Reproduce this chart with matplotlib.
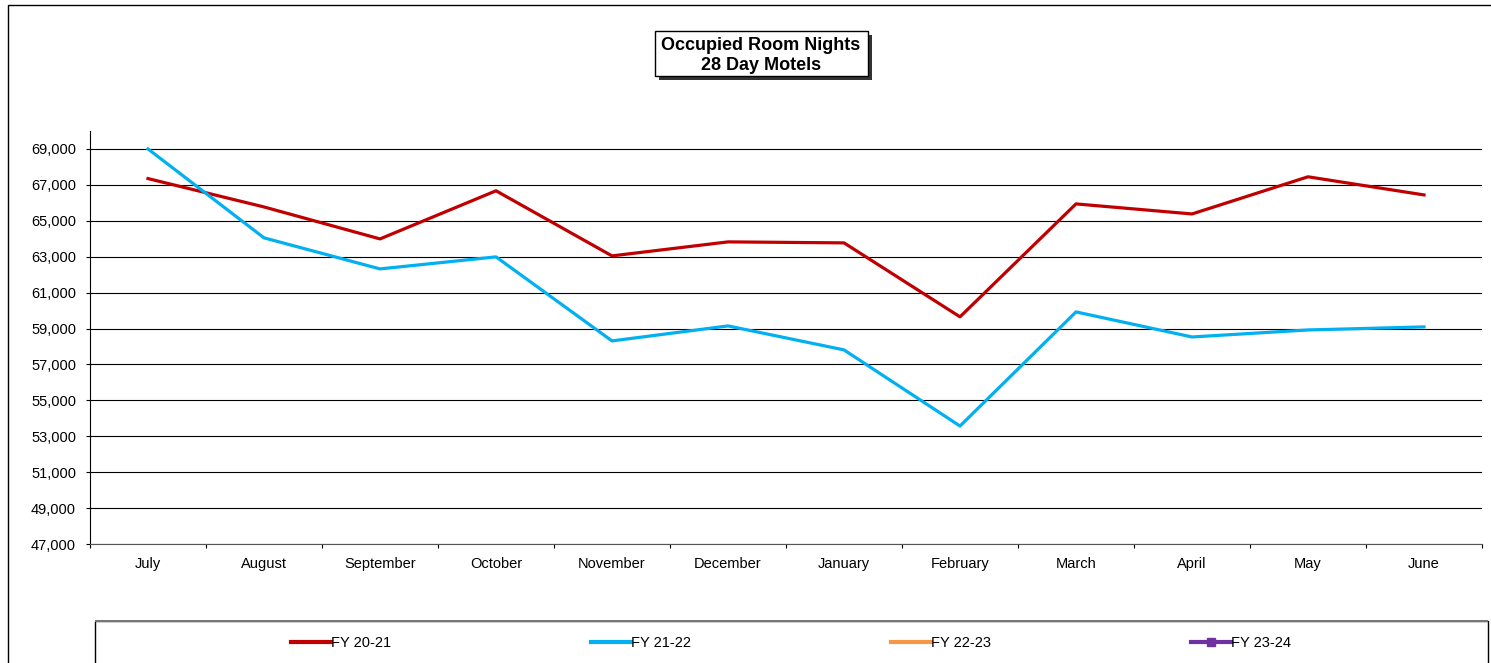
import matplotlib.pyplot as plt
from matplotlib.patches import Rectangle
from matplotlib.ticker import FuncFormatter, FixedLocator

plt.rcParams['font.family'] = ['Liberation Sans', 'DejaVu Sans']

months = ['July', 'August', 'September', 'October', 'November', 'December',
          'January', 'February', 'March', 'April', 'May', 'June']
fy_20_21 = [67350, 65770, 63990, 66670, 63045, 63825, 63770, 59650, 65940, 65380, 67450, 66440]
fy_21_22 = [69000, 64050, 62320, 62990, 58310, 59145, 57810, 53570, 59925, 58530, 58920, 59090]
fy_22_23 = []
fy_23_24 = []

W, H = 1491, 663
fig = plt.figure(figsize=(W / 100, H / 100), dpi=100)

# outer chart border
fig.patches.append(Rectangle((8 / W, -0.01), (W - 7) / W, 1 - 5 / H + 0.01,
                             transform=fig.transFigure, fill=False,
                             edgecolor='black', linewidth=1))

ax = fig.add_axes([90 / W, 1 - 544 / H, (1482 - 90) / W, (544 - 131) / H])
x = list(range(len(months)))
lw = 2.3
ax.plot(x, fy_20_21, color='#C00000', linewidth=lw, label='FY 20-21')
ax.plot(x[:len(fy_21_22)], fy_21_22, color='#00B0F0', linewidth=lw, label='FY 21-22')
ax.plot(x[:len(fy_22_23)], fy_22_23, color='#F79646', linewidth=lw, label='FY 22-23')
ax.plot(x[:len(fy_23_24)], fy_23_24, color='#7030A0', linewidth=lw, marker='s',
        markersize=6, label='FY 23-24')

ax.set_xlim(-0.5, len(months) - 0.5)
ax.set_ylim(47000, 70000)
ax.set_yticks(range(47000, 69001, 2000))
ax.yaxis.set_major_formatter(FuncFormatter(lambda v, p: f'{int(v):,}'))
ax.yaxis.grid(True, color='black', linewidth=0.8)
ax.set_axisbelow(True)

ax.set_xticks(x)
ax.set_xticklabels(months)
ax.xaxis.set_minor_locator(FixedLocator([i + 0.5 for i in range(-1, len(months))]))
ax.tick_params(axis='x', which='major', length=0, pad=9.5, labelsize=10.5)
ax.tick_params(axis='x', which='minor', length=3, direction='out', width=0.8)
ax.tick_params(axis='y', length=3, direction='out', width=0.8, labelsize=10.5, pad=7)

for s in ['top', 'right']:
    ax.spines[s].set_visible(False)
ax.spines['left'].set_linewidth(0.8)
ax.spines['bottom'].set_linewidth(0.8)
ax.spines['bottom'].set_color('#555555')

# title box with shadow
fig.patches.append(Rectangle((659 / W, 1 - 80 / H), 213 / W, 45 / H,
                             transform=fig.transFigure, facecolor='#333333',
                             edgecolor='none'))
fig.patches.append(Rectangle((655 / W, 1 - 76 / H), 213 / W, 45 / H,
                             transform=fig.transFigure, facecolor='white',
                             edgecolor='black', linewidth=1))
fig.text(761 / W, 1 - 55.5 / H, 'Occupied Room Nights\n28 Day Motels',
         ha='center', va='center', fontsize=13, fontweight='bold', linespacing=1.2)

# legend box
fig.patches.append(Rectangle((95 / W, -0.05), (1488 - 95) / W, 1 - 621 / H + 0.05,
                             transform=fig.transFigure, facecolor='white',
                             edgecolor='black', linewidth=1))
fig.patches.append(Rectangle((95 / W, 1 - 622 / H), (1488 - 95) / W, 2 / H,
                             transform=fig.transFigure, facecolor='#777777',
                             edgecolor='none'))
leg = fig.legend(loc='center', bbox_to_anchor=(791 / W, 1 - 643 / H), ncol=4,
                 frameon=False, fontsize=10.5, handlelength=2.75, handletextpad=0.0,
                 columnspacing=13.7)
for h in leg.get_lines():
    h.set_linewidth(3)

fig.savefig('out.png', dpi=100)
